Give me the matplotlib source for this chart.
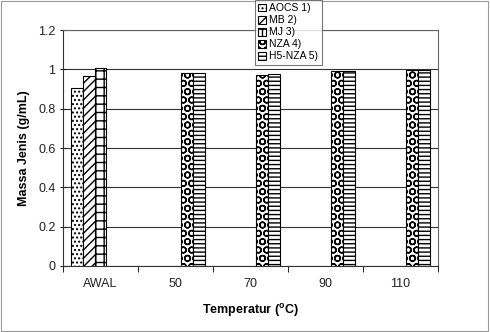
import numpy as np
import matplotlib.pyplot as plt

categories = ["AWAL", "50", "70", "90", "110"]
series = ["AOCS 1)", "MB 2)", "MJ 3)", "NZA 4)", "H5-NZA 5)"]
aocs = [0.906, np.nan, np.nan, np.nan, np.nan]
mb = [0.965, np.nan, np.nan, np.nan, np.nan]
mj = [1.005, np.nan, np.nan, np.nan, np.nan]
nza = [np.nan, 0.98, 0.972, 0.99, 0.995]
h5nza = [np.nan, 0.98, 0.975, 0.99, 0.995]
hatches = ["....", "////", "++", "OO", "----"]

plt.rcParams["font.family"] = ["Liberation Sans", "DejaVu Sans"]
plt.rcParams["hatch.linewidth"] = 1.0
fig = plt.figure(figsize=(4.9, 3.32), dpi=100)
ax = fig.add_axes([0.1286, 0.199, 0.7653, 0.7104])

x = np.arange(len(categories))
w = 0.155
vals = [aocs, mb, mj, nza, h5nza]
for i, (name, v) in enumerate(zip(series, vals)):
    ax.bar(x + (i - 2) * w, v, w, facecolor="white", edgecolor="black",
           hatch=hatches[i], linewidth=0.8, label=name, zorder=3)

ax.set_xlim(-0.5, 4.5)
ax.set_ylim(0, 1.2)
ax.set_yticks(np.arange(0, 1.21, 0.2))
ax.set_yticklabels(["0", "0.2", "0.4", "0.6", "0.8", "1", "1.2"])
ax.set_xticks(x)
ax.set_xticklabels(categories)
ax.set_xticks(np.arange(-0.5, 4.6, 1), minor=True)
ax.tick_params(axis="x", which="major", length=0, pad=9, labelsize=9, colors="#222222")
ax.tick_params(axis="x", which="minor", length=4, direction="out")
ax.tick_params(axis="y", length=4, direction="inout", labelsize=9, colors="#222222")
ax.grid(axis="y", color="#333333", linewidth=0.8, zorder=0)
for s in ax.spines.values():
    s.set_color("#666666")
ax.spines["left"].set_color("#333333")
ax.spines["bottom"].set_color("#333333")

ax.set_ylabel("Massa Jenis (g/mL)", fontsize=9, fontweight="bold", labelpad=6)
ax.set_xlabel(r"Temperatur ($^{\mathregular{o}}$C)", fontsize=9, fontweight="bold", labelpad=8)

leg = fig.legend(loc="upper left", bbox_to_anchor=(0.52, 1.0), fontsize=7.5,
                 frameon=True, fancybox=False, edgecolor="#555555",
                 handlelength=0.8, handleheight=0.8, handletextpad=0.3,
                 labelspacing=0.2, borderpad=0.3, borderaxespad=0)
leg.get_frame().set_linewidth(0.8)

fig.patches.append(plt.Rectangle((0.002, 0.004), 0.994, 0.992, transform=fig.transFigure,
                                 fill=False, edgecolor="#999999", linewidth=0.8))
fig.savefig("out.png", dpi=100)
